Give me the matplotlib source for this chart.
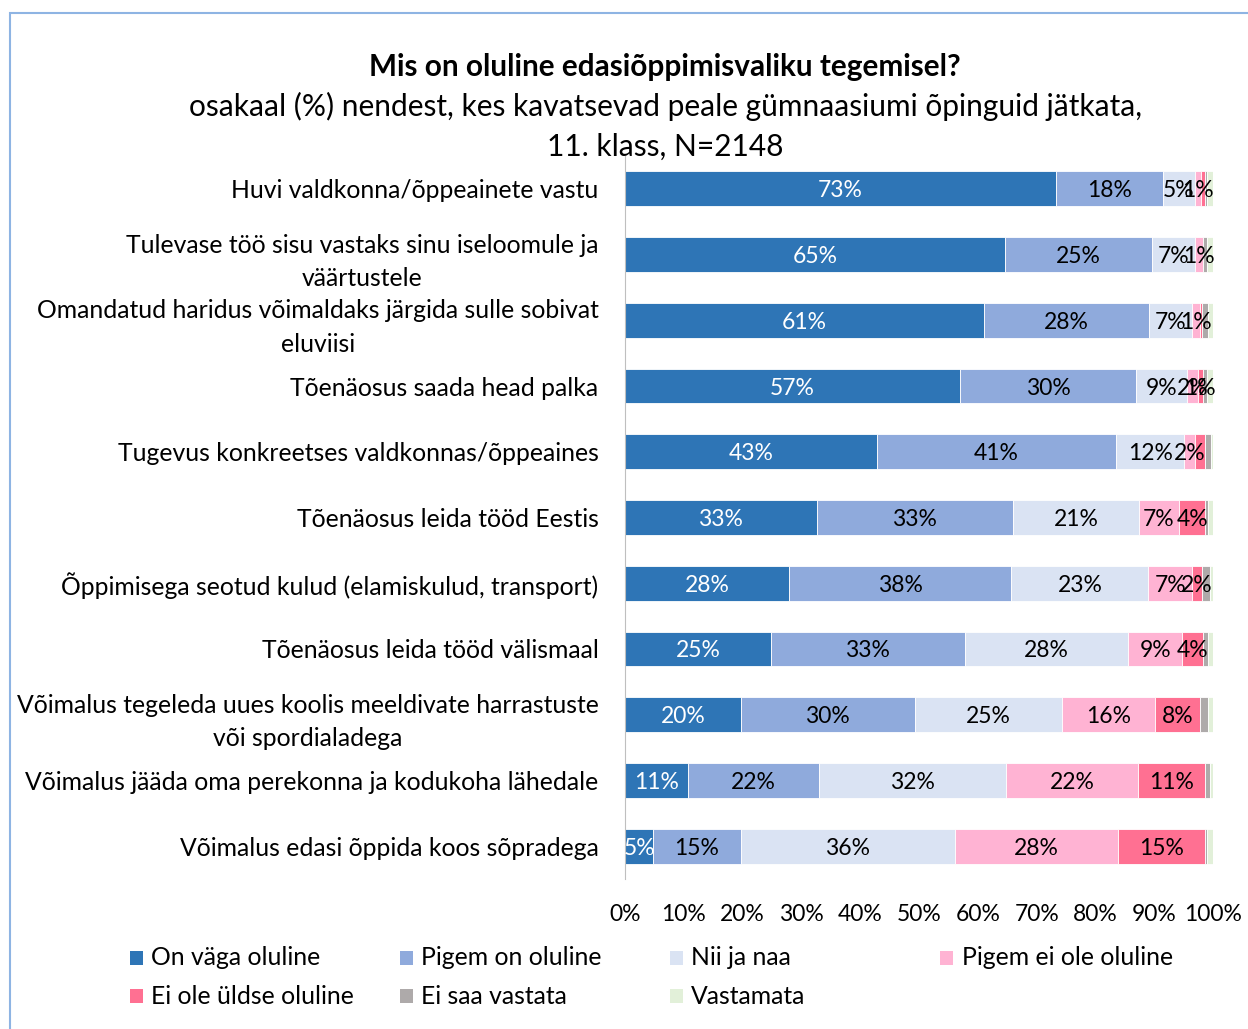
import matplotlib.pyplot as plt
import numpy as np
from matplotlib.patches import Rectangle

plt.rcParams['font.family'] = ['Lato', 'DejaVu Sans']

questions = [
    "Huvi valdkonna/õppeainete vastu",
    "Tulevase töö sisu vastaks sinu iseloomule ja\nväärtustele",
    "Omandatud haridus võimaldaks järgida sulle sobivat\neluviisi",
    "Tõenäosus saada head palka",
    "Tugevus konkreetses valdkonnas/õppeaines",
    "Tõenäosus leida tööd Eestis",
    "Õppimisega seotud kulud (elamiskulud, transport)",
    "Tõenäosus leida tööd välismaal",
    "Võimalus tegeleda uues koolis meeldivate harrastuste\nvõi spordialadega",
    "Võimalus jääda oma perekonna ja kodukoha lähedale",
    "Võimalus edasi õppida koos sõpradega",
]

answers = ["On väga oluline", "Pigem on oluline", "Nii ja naa", "Pigem ei ole oluline",
           "Ei ole üldse oluline", "Ei saa vastata", "Vastamata"]

colors = ['#2E75B6', '#8FAADC', '#DAE3F3', '#FFB3D3', '#FF7092', '#AEAAAA', '#E2F0D9']

# percentages, one list per answer option
on_vaga = [73.3, 64.6, 61.1, 57.0, 42.9, 32.6, 27.9, 24.8, 19.7, 10.7, 4.8]
pigem_on = [18.2, 25.0, 28.0, 29.9, 40.6, 33.4, 37.8, 33.0, 29.6, 22.3, 14.9]
nii_ja_naa = [5.4, 7.3, 7.4, 8.7, 11.6, 21.4, 23.3, 27.8, 25.0, 31.8, 36.4]
pigem_ei = [1.0, 1.4, 1.3, 1.8, 1.8, 6.8, 7.4, 9.1, 15.8, 22.4, 27.7]
ei_ole = [0.8, 0.0, 0.3, 0.85, 1.8, 4.5, 1.8, 3.6, 7.7, 11.4, 14.8]
ei_saa = [0.3, 0.7, 1.0, 0.7, 0.9, 0.4, 1.3, 0.8, 1.4, 0.9, 0.4]
vastamata = [1.0, 1.0, 0.9, 1.05, 0.4, 0.9, 0.5, 0.9, 0.8, 0.5, 1.0]

series = [on_vaga, pigem_on, nii_ja_naa, pigem_ei, ei_ole, ei_saa, vastamata]

# labels Excel did not show
hidden = [(0, 4), (4, 4)]

fig = plt.figure(figsize=(12.48, 10.29), dpi=100)
ax = fig.add_axes([0.5008, 0.1458, 0.4712, 0.7026])

y = np.arange(len(questions))
left = np.zeros(len(questions))
for j, vals in enumerate(series):
    vals = np.array(vals)
    ax.barh(y, vals, left=left, height=0.53, color=colors[j], edgecolor='white', linewidth=0.6)
    if j < 5:
        for i, v in enumerate(vals):
            if round(v) >= 1 and (i, j) not in hidden:
                ax.text(left[i] + v / 2, y[i], f"{round(v)}%", ha='center', va='center_baseline',
                        fontsize=16.5, color='white' if j == 0 else 'black')
    left += vals

ax.set_xlim(0, 100)
ax.set_ylim(len(questions) - 0.5, -0.5)
ax.set_xticks(np.arange(0, 101, 10))
ax.set_xticklabels([f"{t}%" for t in range(0, 101, 10)], fontsize=16.5)
ax.set_yticks(y)
ax.set_yticklabels(questions, fontsize=17.8)
for lab in ax.get_yticklabels():
    lab.set_multialignment('center')
    lab.set_linespacing(1.55)
ax.tick_params(axis='x', length=0, pad=18)
ax.tick_params(axis='y', length=0, pad=19)
for s in ['top', 'right', 'bottom']:
    ax.spines[s].set_visible(False)
ax.spines['left'].set_color('#BFBFBF')

fig.text(0.533, 0.935, "Mis on oluline edasiõppimisvaliku tegemisel?", ha='center', va='center',
         fontsize=21.4, fontweight='bold')
fig.text(0.533, 0.897, "osakaal (%) nendest, kes kavatsevad peale gümnaasiumi õpinguid jätkata,",
         ha='center', va='center', fontsize=21.5)
fig.text(0.533, 0.857, "11. klass, N=2148", ha='center', va='center', fontsize=21.5)

# legend laid out in an even grid like the original
for k, name in enumerate(answers):
    col, row = k % 4, k // 4
    x0 = 0.104 + col * 0.2165
    y0 = 0.069 - row * 0.037
    fig.patches.append(Rectangle((x0, y0 - 0.0065), 0.0105, 0.013, transform=fig.transFigure,
                                 facecolor=colors[k], edgecolor='none'))
    fig.text(x0 + 0.017, y0, name, ha='left', va='center', fontsize=17.8)

# chart frame
fig.patches.append(Rectangle((0.008, -0.05), 1.1, 0.9875 + 0.05, transform=fig.transFigure,
                             fill=False, edgecolor='#8EB4E3', linewidth=1.5))

fig.savefig('out.png', dpi=100)
